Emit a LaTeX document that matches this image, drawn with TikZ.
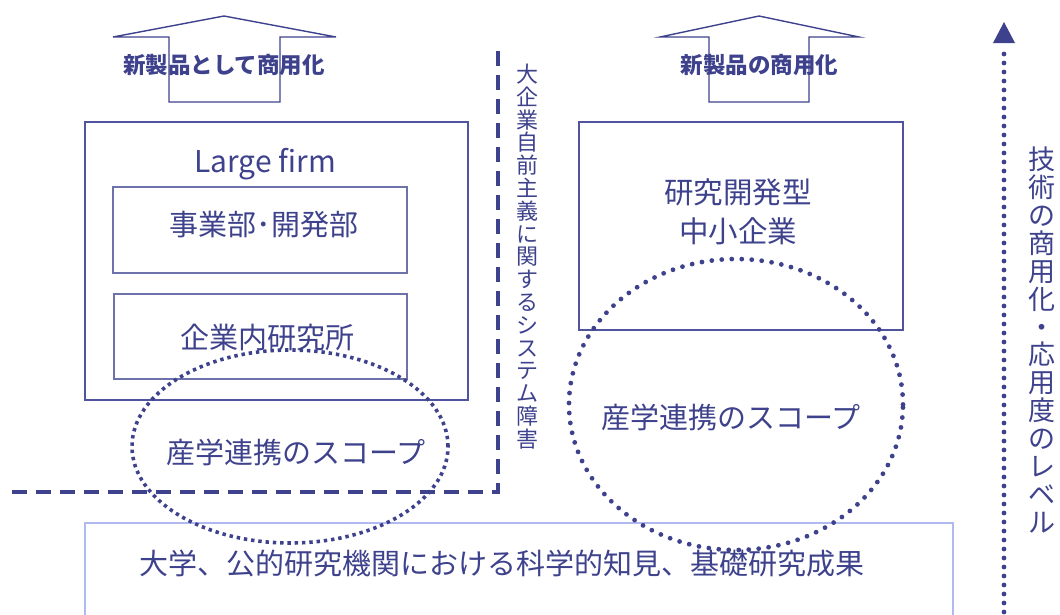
\documentclass[tikz,border=0pt]{standalone}
\usepackage{fontspec}
\setmainfont{Noto Sans CJK JP}
\usetikzlibrary{shapes.geometric}
\definecolor{navy}{RGB}{62,66,140}
\definecolor{boxline}{RGB}{80,84,158}
\definecolor{innerline}{RGB}{110,114,170}
\definecolor{paleline}{RGB}{176,186,240}
\tikzset{
  txt/.style={text=navy, inner sep=0pt, font=\fontsize{29}{38}\selectfont, align=center},
  panel/.style={draw=boxline, line width=1.2pt, inner sep=0pt},
  innerpanel/.style={draw=innerline, line width=1.2pt, inner sep=0pt},
  uparrow/.style={draw=navy, line width=1.4pt, line join=miter},
  arrowlabel/.style={text=navy, inner sep=0pt, font=\fontsize{22.5}{26}\selectfont\bfseries},
  scopeA/.style={ellipse, draw=navy, line width=3.6pt, dash pattern=on 3.4pt off 3.9pt, inner sep=0pt},
  scopeB/.style={ellipse, draw=navy, line width=4.8pt, line cap=round, dash pattern=on 0pt off 10pt, inner sep=0pt},
  barrier/.style={draw=navy, line width=3.8pt, dash pattern=on 15pt off 9pt},
  vtextA/.style={text=navy, inner sep=0pt, align=center, font=\fontsize{22}{22.8}\selectfont},
  vtextB/.style={text=navy, inner sep=0pt, align=center, font=\fontsize{27}{27.9}\selectfont},
  levelline/.style={draw=navy, line width=4.8pt, line cap=round, dash pattern=on 0pt off 9pt},
}
\begin{document}
\begin{tikzpicture}[x=1pt,y=-1pt]
\useasboundingbox (0,0) rectangle (1060,614);

% commercialization arrows
\draw[uparrow] (113,37) -- (224,16) -- (336,37) -- (280,37) -- (280,102) -- (169,102) -- (169,37) -- cycle;
\node[arrowlabel] (lab1) at (224,65) {新製品として商用化};
\draw[uparrow] (660,37) -- (759,16) -- (859,37) -- (809,37) -- (809,102) -- (709,102) -- (709,37) -- cycle;
\node[arrowlabel] (lab2) at (759.5,65) {新製品の商用化};

% large firm
\node[panel, minimum width=383pt, minimum height=278pt] (large) at (276.5,261) {};
\node[txt, font=\fontsize{30}{36}\selectfont] (largelab) at (265,164) {Large firm};
\node[innerpanel, minimum width=294pt, minimum height=86pt] (div) at (260,230) {};
\node[txt] (divlab) at (264,225) {事業部･開発部};
\node[innerpanel, minimum width=293pt, minimum height=85pt] (lab) at (260.5,336.5) {};
\node[txt] (lablab) at (267,337) {企業内研究所};

% SME
\node[panel, minimum width=324pt, minimum height=208pt] (sme) at (741,226) {};
\node[txt, font=\fontsize{29.5}{39}\selectfont] (smelab) at (738,212) {研究開発型\\中小企業};

% university box
\coordinate (ubl) at (85,620);
\coordinate (utl) at (85,523);
\coordinate (utr) at (953,523);
\coordinate (ubr) at (953,620);
\draw[paleline, line width=1.2pt] (ubl) -- (utl) -- (utr) -- (ubr);
\node[txt] (univ) at (502,563) {大学、公的研究機関における科学的知見、基礎研究成果};

% scopes
\node[scopeA, minimum width=316pt, minimum height=193pt] (scope1) at (290,446.5) {};
\node[txt] (scope1lab) at (296,452) {産学連携のスコープ};
\node[scopeB, minimum width=334pt, minimum height=291pt] (scope2) at (736,404.5) {};
\node[txt] (scope2lab) at (731,417) {産学連携のスコープ};

% barrier
\coordinate (bh) at (12,492);
\coordinate (bc) at (498,492);
\coordinate (bv) at (498,45);
\draw[barrier] (bh) -- (bc) -- (bv);
\node[vtextA] (barrierlab) at (527,256.5) {大\\企\\業\\自\\前\\主\\義\\に\\関\\す\\る\\シ\\ス\\テ\\ム\\障\\害};

% level axis
\coordinate (lvbot) at (1004,612);
\coordinate (lvtop) at (1004,48);
\draw[levelline] (lvbot) -- (lvtop);
\fill[navy] (993,43) -- (1015,43) -- (1004,22) -- cycle;
\node[vtextB] (levellab) at (1042,340) {技\\術\\の\\商\\用\\化\\・\\応\\用\\度\\の\\レ\\ベ\\ル};
\end{tikzpicture}
\end{document}
